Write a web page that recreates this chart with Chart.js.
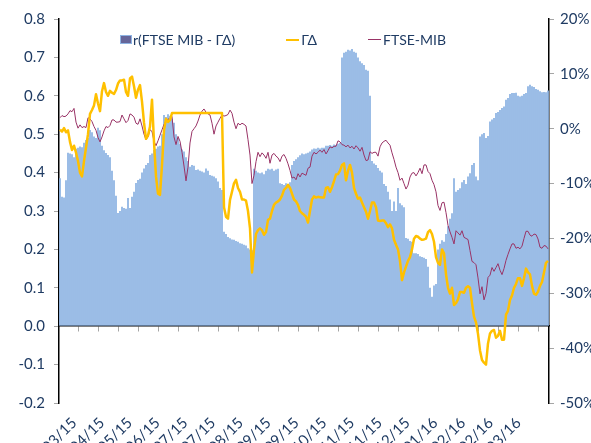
<!DOCTYPE html>
<html>
<head>
<meta charset="utf-8">
<script src="https://cdn.jsdelivr.net/npm/chart.js@4"></script>
<style>
  html, body { margin: 0; padding: 0; background: #fff; overflow: hidden; }
  #wrap { position: relative; width: 591px; height: 443px; }
  #legend { position: absolute; left: 120px; top: 31px; display: flex; align-items: center; gap: 51px;
    font: 14px Lato, sans-serif; color: #1F3B63; white-space: nowrap; }
  #legend .item { display: flex; align-items: center; }
  #legend .box { width: 10px; height: 7px; margin-right: 1px; }
  #legend .line { width: 13px; height: 0; margin-right: 2px; }
</style>
</head>
<body>
<div id="wrap">
  <canvas id="chart" width="591" height="443"></canvas>
  <div id="legend"></div>
</div>
<script>
// x axis labels (as printed under the chart)
const dateLabels = ['03/15', '04/15', '05/15', '06/15', '07/15', '07/15', '08/15', '09/15', '09/15',
  '10/15', '11/15', '11/15', '12/15', '01/16', '02/16', '02/16', '03/16'];

// r(FTSE MIB - ΓΔ), left axis
const rCorr = [
  0.385, 0.337, 0.335, 0.38, 0.452, 0.45, 0.448, 0.44, 0.462, 0.465,
  0.468, 0.466, 0.478, 0.485, 0.49, 0.511, 0.505, 0.494, 0.49, 0.517,
  0.51, 0.47, 0.458, 0.451, 0.446, 0.44, 0.405, 0.38, 0.34, 0.295,
  0.3, 0.311, 0.308, 0.306, 0.334, 0.308, 0.337, 0.35, 0.373, 0.381,
  0.384, 0.4, 0.411, 0.42, 0.425, 0.446, 0.45, 0.459, 0.462, 0.468,
  0.47, 0.5, 0.55, 0.545, 0.552, 0.548, 0.54, 0.53, 0.5, 0.49,
  0.475, 0.46, 0.455, 0.44, 0.43, 0.415, 0.42, 0.418, 0.407, 0.408,
  0.405, 0.403, 0.4, 0.411, 0.405, 0.394, 0.392, 0.39, 0.385, 0.377,
  0.36, 0.355, 0.246, 0.24, 0.232, 0.229, 0.226, 0.225, 0.222, 0.22,
  0.216, 0.215, 0.212, 0.21, 0.203, 0.2, 0.198, 0.41, 0.405, 0.4,
  0.398, 0.4, 0.396, 0.405, 0.41, 0.408, 0.41, 0.405, 0.408, 0.41,
  0.372, 0.37, 0.368, 0.372, 0.37, 0.375, 0.42, 0.43, 0.435, 0.44,
  0.445, 0.45, 0.448, 0.45, 0.452, 0.455, 0.46, 0.463, 0.462, 0.465,
  0.463, 0.465, 0.465, 0.47, 0.47, 0.472, 0.47, 0.473, 0.472, 0.475,
  0.477, 0.7, 0.712, 0.715, 0.72, 0.718, 0.722, 0.715, 0.712, 0.7,
  0.69, 0.685, 0.68, 0.668, 0.665, 0.6, 0.43, 0.424, 0.42, 0.412,
  0.405, 0.4, 0.37, 0.365, 0.35, 0.33, 0.3, 0.325, 0.3, 0.36,
  0.32, 0.315, 0.31, 0.23, 0.228, 0.222, 0.22, 0.19, 0.19, 0.188,
  0.182, 0.18, 0.178, 0.175, 0.155, 0.1, 0.077, 0.106, 0.11, 0.2,
  0.215, 0.224, 0.22, 0.24, 0.26, 0.28, 0.294, 0.385, 0.35, 0.355,
  0.359, 0.375, 0.381, 0.37, 0.39, 0.398, 0.42, 0.425, 0.39, 0.38,
  0.494, 0.5, 0.503, 0.49, 0.495, 0.533, 0.538, 0.542, 0.555, 0.558,
  0.563, 0.568, 0.572, 0.59, 0.594, 0.605, 0.607, 0.607, 0.608, 0.6,
  0.598, 0.6, 0.605, 0.607, 0.625, 0.629, 0.625, 0.623, 0.618, 0.616,
  0.612, 0.609, 0.61, 0.609, 0.614
];

// ΓΔ, left axis
const gammaDelta = [
  0.512, 0.507, 0.516, 0.505, 0.51, 0.48, 0.459, 0.47, 0.452, 0.43,
  0.4, 0.39, 0.43, 0.465, 0.5, 0.553, 0.563, 0.575, 0.604, 0.58,
  0.56, 0.612, 0.633, 0.61, 0.6, 0.613, 0.608, 0.605, 0.615, 0.632,
  0.64, 0.64, 0.642, 0.61, 0.6, 0.645, 0.65, 0.625, 0.595, 0.616,
  0.628, 0.585, 0.53, 0.488, 0.497, 0.52, 0.59, 0.48, 0.39, 0.345,
  0.342, 0.42, 0.51, 0.54, 0.532, 0.537, 0.555, 0.555, 0.555, 0.555,
  0.555, 0.555, 0.555, 0.555, 0.555, 0.555, 0.555, 0.555, 0.555, 0.555,
  0.555, 0.555, 0.555, 0.555, 0.555, 0.555, 0.555, 0.555, 0.555, 0.555,
  0.555, 0.555, 0.31, 0.285, 0.28, 0.329, 0.35, 0.372, 0.381, 0.36,
  0.35, 0.33, 0.33, 0.327, 0.3, 0.255, 0.14, 0.2, 0.24, 0.25,
  0.255, 0.25, 0.238, 0.245, 0.277, 0.28, 0.3, 0.316, 0.322, 0.325,
  0.33, 0.34, 0.355, 0.36, 0.368, 0.36, 0.345, 0.33, 0.325, 0.316,
  0.3, 0.294, 0.29, 0.285, 0.27, 0.3, 0.33, 0.338, 0.335, 0.337,
  0.336, 0.335, 0.335, 0.36, 0.362, 0.35, 0.362, 0.378, 0.395, 0.396,
  0.405, 0.42, 0.424, 0.38, 0.405, 0.42, 0.4, 0.36, 0.345, 0.332,
  0.335, 0.322, 0.31, 0.298, 0.28, 0.3, 0.322, 0.322, 0.31, 0.275,
  0.274, 0.275, 0.275, 0.268, 0.258, 0.265, 0.255, 0.225, 0.212, 0.2,
  0.17, 0.12, 0.14, 0.155, 0.17, 0.18, 0.2, 0.228, 0.235, 0.233,
  0.228, 0.225, 0.226, 0.228, 0.245, 0.25, 0.24, 0.22, 0.18, 0.165,
  0.16, 0.2, 0.19, 0.135, 0.1, 0.085, 0.1, 0.055, 0.06, 0.07,
  0.089, 0.089, 0.087, 0.1, 0.104, 0.1, 0.06, 0.025, 0.01, -0.02,
  -0.063, -0.088, -0.095, -0.1, -0.045, -0.019, -0.012, -0.01, -0.03, -0.025,
  -0.012, -0.035, -0.035, 0.03, 0.04, 0.068, 0.08, 0.1, 0.11, 0.125,
  0.125, 0.105, 0.125, 0.15, 0.14, 0.135, 0.105, 0.085, 0.082, 0.09,
  0.105, 0.115, 0.14, 0.165, 0.17
];

// FTSE-MIB, % change, right axis
const ftseMib = [
  2.0, 2.4, 2.2, 2.3, 2.7, 3.3, 3.1, 3.7, 1.2, 0.1,
  0.7, 0.2, 0.4, 0.2, 2.0, 1.8, 1.3, 0.4, -0.3, -1.6,
  -2.4, -1.5, -0.4, 0.4, 0.2, 0.6, 1.6, 1.6, 1.2, 1.2,
  1.3, 2.5, 1.8, 1.1, 1.5, 2.7, 2.5, 2.1, 1.0, 0.8,
  1.8, 0.5, -1.0, -2.0, -1.5, -0.2, -0.5, -2.3, -3.1, -2.2,
  -1.2, -0.2, 0.8, 1.4, 1.8, 1.6, 2.2, -1.5, -2.9, -1.4,
  -2.3, -4.3, -6.8, -9.5, -7.0, -2.6, -0.5, 0.0, 0.5, 1.4,
  2.5, 3.2, 3.6, 3.0, 2.7, 2.5, 1.0, -1.0, 0.5, 1.2,
  1.9, 2.5, 2.3, 2.4, 2.6, 3.4, 2.8, 1.2, 0.0, 1.0,
  0.7, 1.0, 0.8, 0.5, -2.0, -4.8, -10.0, -8.5, -6.0, -4.3,
  -5.1, -4.4, -4.8, -5.4, -4.3, -6.3, -4.8, -4.5, -5.0, -5.3,
  -6.0, -5.0, -4.7, -5.4, -6.4, -7.6, -9.0, -8.8, -9.3, -8.2,
  -8.8, -8.1, -8.3, -8.5, -7.2, -7.0, -5.0, -4.3, -4.6, -4.3,
  -3.9, -4.3, -3.8, -4.6, -4.0, -3.3, -3.5, -3.2, -3.2, -2.2,
  -2.4, -2.9, -3.0, -3.3, -3.0, -3.5, -3.2, -3.7, -3.1, -3.5,
  -4.1, -3.4, -4.8, -5.8, -5.7, -4.2, -4.5, -4.3, -4.3, -5.0,
  -3.3, -2.6, -2.3, -2.1, -2.6, -3.0, -4.4, -5.6, -7.0, -8.0,
  -9.4, -9.0, -10.0, -11.0, -10.3, -8.8, -8.1, -8.0, -8.6, -8.0,
  -7.2, -8.2, -6.6, -6.6, -7.8, -8.2, -9.4, -10.2, -11.5, -14.0,
  -14.9, -13.5, -13.4, -15.3, -17.6, -18.8, -19.8, -21.0, -18.6, -19.0,
  -19.4, -18.6, -19.8, -20.0, -20.2, -22.2, -24.2, -24.4, -24.8, -27.2,
  -30.1, -28.8, -31.2, -30.0, -27.1, -26.7, -25.3, -26.0, -25.3, -24.6,
  -25.8, -26.6, -25.5, -24.0, -22.9, -21.9, -21.0, -21.0, -21.8, -21.6,
  -21.9, -21.4, -20.0, -18.7, -18.7, -19.4, -19.6, -19.2, -19.3, -20.1,
  -21.6, -21.8, -21.3, -21.4, -21.9
];

const $ = (sel) => document.querySelector(sel);

const TEXT = '#1F3B63';
const FONT = { family: 'Lato, sans-serif', size: 15 };
const TICK_GREY = '#a6a6a6';
const BAR_SWATCH = '#666699';

const chart = new Chart($('#chart'), {
  type: 'bar',
  data: {
    labels: rCorr.map((_, i) => i),
    datasets: [
      { label: 'r(FTSE MIB - ΓΔ)', data: rCorr, yAxisID: 'y', order: 3,
        backgroundColor: '#8eb4e3', borderWidth: 0, barPercentage: 0.88, categoryPercentage: 1 },
      { type: 'line', label: 'ΓΔ', data: gammaDelta, yAxisID: 'y', order: 1,
        borderColor: '#ffc000', borderWidth: 2.5, pointRadius: 0, tension: 0,
        borderJoinStyle: 'round', legendWidth: 2 },
      { type: 'line', label: 'FTSE-MIB', data: ftseMib, yAxisID: 'y2', order: 2,
        borderColor: '#993366', borderWidth: 1, pointRadius: 0, tension: 0, legendWidth: 1.5 }
    ]
  },
  options: {
    responsive: false,
    animation: false,
    devicePixelRatio: 1,
    layout: { padding: { top: 19, left: 0, right: 0, bottom: 0 } },
    plugins: { legend: { display: false }, tooltip: { enabled: false } },
    scales: {
      x: {
        type: 'category',
        position: { y: 0 },
        offset: true,
        grid: { drawOnChartArea: false, offset: false, tickLength: 5, color: TICK_GREY },
        border: { color: '#000', width: 1.5 },
        afterBuildTicks: (s) => { s.ticks = s.ticks.filter(t => t.value > 0 && t.value % 10 === 9); },
        ticks: { display: false, autoSkip: false }
      },
      // date labels sit on their own axis, spaced like the original
      xDates: {
        type: 'linear',
        position: 'bottom',
        bounds: 'data',
        min: -0.03,
        max: 16.58,
        grid: { display: false },
        border: { display: false },
        afterBuildTicks: (s) => { s.ticks = dateLabels.map((_, i) => ({ value: i })); },
        afterFit: (s) => { s.height = 40; },
        ticks: {
          autoSkip: false, minRotation: 45, maxRotation: 45, padding: 3,
          color: TEXT, font: FONT,
          callback: (v) => dateLabels[v]
        }
      },
      y: {
        position: 'left',
        min: -0.2,
        max: 0.8,
        grid: { drawOnChartArea: false, tickLength: 5, color: TICK_GREY },
        border: { color: '#000', width: 1.5 },
        afterFit: (s) => { s.width = 59; },
        ticks: {
          stepSize: 0.1, padding: 9, color: TEXT, font: FONT,
          callback: (v) => Math.abs(v) < 1e-9 ? '0.0' : v.toFixed(1)
        }
      },
      y2: {
        position: 'right',
        min: -50,
        max: 20,
        grid: { drawOnChartArea: false, tickLength: 5, color: TICK_GREY },
        border: { color: '#000', width: 1.5 },
        afterFit: (s) => { s.width = 42; },
        ticks: {
          stepSize: 10, padding: 6, color: TEXT, font: FONT,
          callback: (v) => Math.round(v) + '%'
        }
      }
    }
  }
});

// legend drawn as html on top of the plot, like the original
function buildLegend(chart) {
  const box = $('#legend');
  box.innerHTML = '';
  chart.data.datasets.forEach(ds => {
    const item = document.createElement('span');
    item.className = 'item';
    const mark = document.createElement('span');
    if (ds.type === 'line') {
      mark.className = 'line';
      mark.style.borderTop = `${ds.legendWidth}px solid ${ds.borderColor}`;
    } else {
      mark.className = 'box';
      mark.style.background = BAR_SWATCH;
      mark.style.border = '1px solid ' + ds.backgroundColor;
    }
    const txt = document.createElement('span');
    txt.textContent = ds.label;
    item.appendChild(mark);
    item.appendChild(txt);
    box.appendChild(item);
  });
}
buildLegend(chart);
</script>
</body>
</html>
